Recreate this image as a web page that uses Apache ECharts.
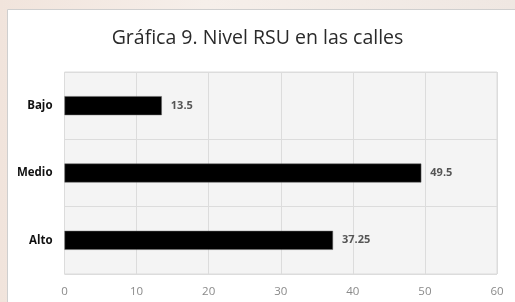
<!DOCTYPE html>
<html>
<head>
<meta charset="utf-8">
<script src="https://cdn.jsdelivr.net/npm/echarts@6/dist/echarts.min.js"></script>
<style>
  html, body { margin: 0; padding: 0; }
  body { background: linear-gradient(90deg, #f1e4dc 0%, #f6efea 40%, #efe7e2 100%); }
  #chart { width: 515px; height: 302px; }
</style>
</head>
<body>
<div id="chart"></div>
<script>
const categories = ['Alto', 'Medio', 'Bajo'];
const values = [37.25, 49.5, 13.5];
const xTicks = { min: 0, max: 60, interval: 10 };

const chart = echarts.init(document.getElementById('chart'));
chart.setOption({
  animation: false,
  graphic: [{
    type: 'rect',
    shape: { x: 7.5, y: 9.5, width: 520, height: 300 },
    style: { fill: '#ffffff', stroke: '#cfcfcf', lineWidth: 1 },
    z: -10
  }],
  title: {
    text: 'Gráfica 9. Nivel RSU en las calles',
    left: 'center',
    top: 23,
    textStyle: { fontFamily: 'Open Sans', fontSize: 19.5, fontWeight: 'normal', color: '#2a2a2a' }
  },
  grid: {
    left: 64.5, right: 18, top: 72, bottom: 28,
    show: true, backgroundColor: '#f4f4f4', borderColor: '#dcdcdc', borderWidth: 1
  },
  xAxis: {
    type: 'value',
    min: xTicks.min, max: xTicks.max, interval: xTicks.interval,
    axisLine: { show: false },
    axisTick: { show: false },
    axisLabel: { color: '#8a8a8a', fontFamily: 'Open Sans', fontSize: 11.5, margin: 12 },
    splitLine: { lineStyle: { color: '#dcdcdc', width: 1 } }
  },
  yAxis: {
    type: 'category',
    data: categories,
    axisLine: { show: false },
    axisTick: { show: false },
    axisLabel: { color: '#111', fontFamily: 'Open Sans', fontSize: 11.5, fontWeight: 'bold', margin: 12 },
    splitLine: { show: true, lineStyle: { color: '#dcdcdc', width: 1 } }
  },
  series: [{
    type: 'bar',
    data: values,
    barWidth: 19,
    itemStyle: { color: '#000', borderColor: '#666', borderWidth: 0.5 },
    label: {
      show: true,
      position: 'right',
      distance: 9,
      color: '#555',
      fontFamily: 'Open Sans',
      fontSize: 11,
      fontWeight: 'bold'
    }
  }]
});
</script>
</body>
</html>
